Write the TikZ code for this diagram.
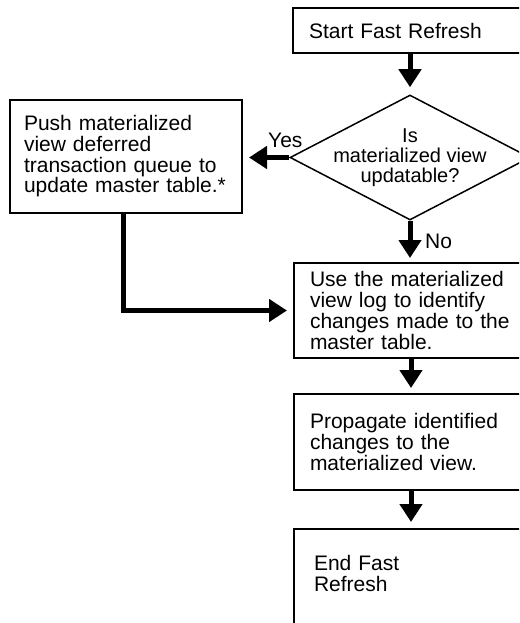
\documentclass[tikz,border=0pt]{standalone}
\usepackage{fontspec}
\setmainfont{Liberation Sans}
\usetikzlibrary{arrows.meta,shapes.geometric}
\newcommand\oneline[1]{\mbox{#1}}
\begin{document}
\begin{tikzpicture}[x=1pt,y=-1pt,
  box/.style={draw, line width=2pt, rectangle, anchor=north west, align=left,
    inner ysep=0pt, font=\fontsize{21}{20.7}\selectfont},
  flow/.style={line width=5pt, -{Triangle[width=22pt,length=18pt]}},
  lbl/.style={font=\fontsize{21}{20.7}\selectfont, inner sep=0pt}]
\useasboundingbox (0,0) rectangle (519,623);
\clip (0,0) rectangle (519,623);
\node[box, minimum width=236pt, minimum height=45pt, text width=204pt, inner xsep=16pt] (start) at (292,7) {\oneline{Start Fast Refresh}};
\node[diamond, draw, line width=1.5pt, minimum width=240pt, minimum height=125pt, inner sep=0pt] (dec) at (410,157.5) {};
\node[lbl, align=center, font=\fontsize{20}{20}\selectfont] (q) at (dec.center) {Is\\materialized view\\updatable?};
\node[box, minimum width=232pt, minimum height=113pt, text width=204pt, inner xsep=14pt] (push) at (9,99) {\oneline{Push materialized}\\\oneline{view deferred}\\\oneline{transaction queue to}\\\oneline{update master table.*}};
\node[box, minimum width=234pt, minimum height=95pt, text width=202pt, inner xsep=16pt] (use) at (293,262) {\oneline{Use the materialized}\\\oneline{view log to identify}\\\oneline{changes made to the}\\\oneline{master table.}};
\node[box, minimum width=234pt, minimum height=96pt, text width=202pt, inner xsep=16pt] (prop) at (293,393) {\oneline{Propagate identified}\\\oneline{changes to the}\\\oneline{materialized view.}};
\node[box, minimum width=234pt, minimum height=98pt, text width=194pt, inner xsep=20pt, text depth=30pt] (fin) at (293,528) {End Fast\\Refresh};
\node[lbl, anchor=base west] (yes) at (268,147) {Yes};
\node[lbl, anchor=base west] (no) at (425,248) {No};
\draw[flow] (dec.north |- start.south) -- ([yshift=7pt]dec.north);
\draw[flow] (dec.west) -- ([xshift=6pt]push.east |- dec.west);
\draw[flow] (dec.south) -- ([yshift=4pt]dec.south |- use.north);
\draw[flow] (use.south) -- ([yshift=5pt]prop.north);
\draw[flow] (prop.south) -- ([yshift=6pt]fin.north);
\draw[flow] ([xshift=-3pt]push.south) |- ([xshift=-6pt]use.west);
\end{tikzpicture}
\end{document}
